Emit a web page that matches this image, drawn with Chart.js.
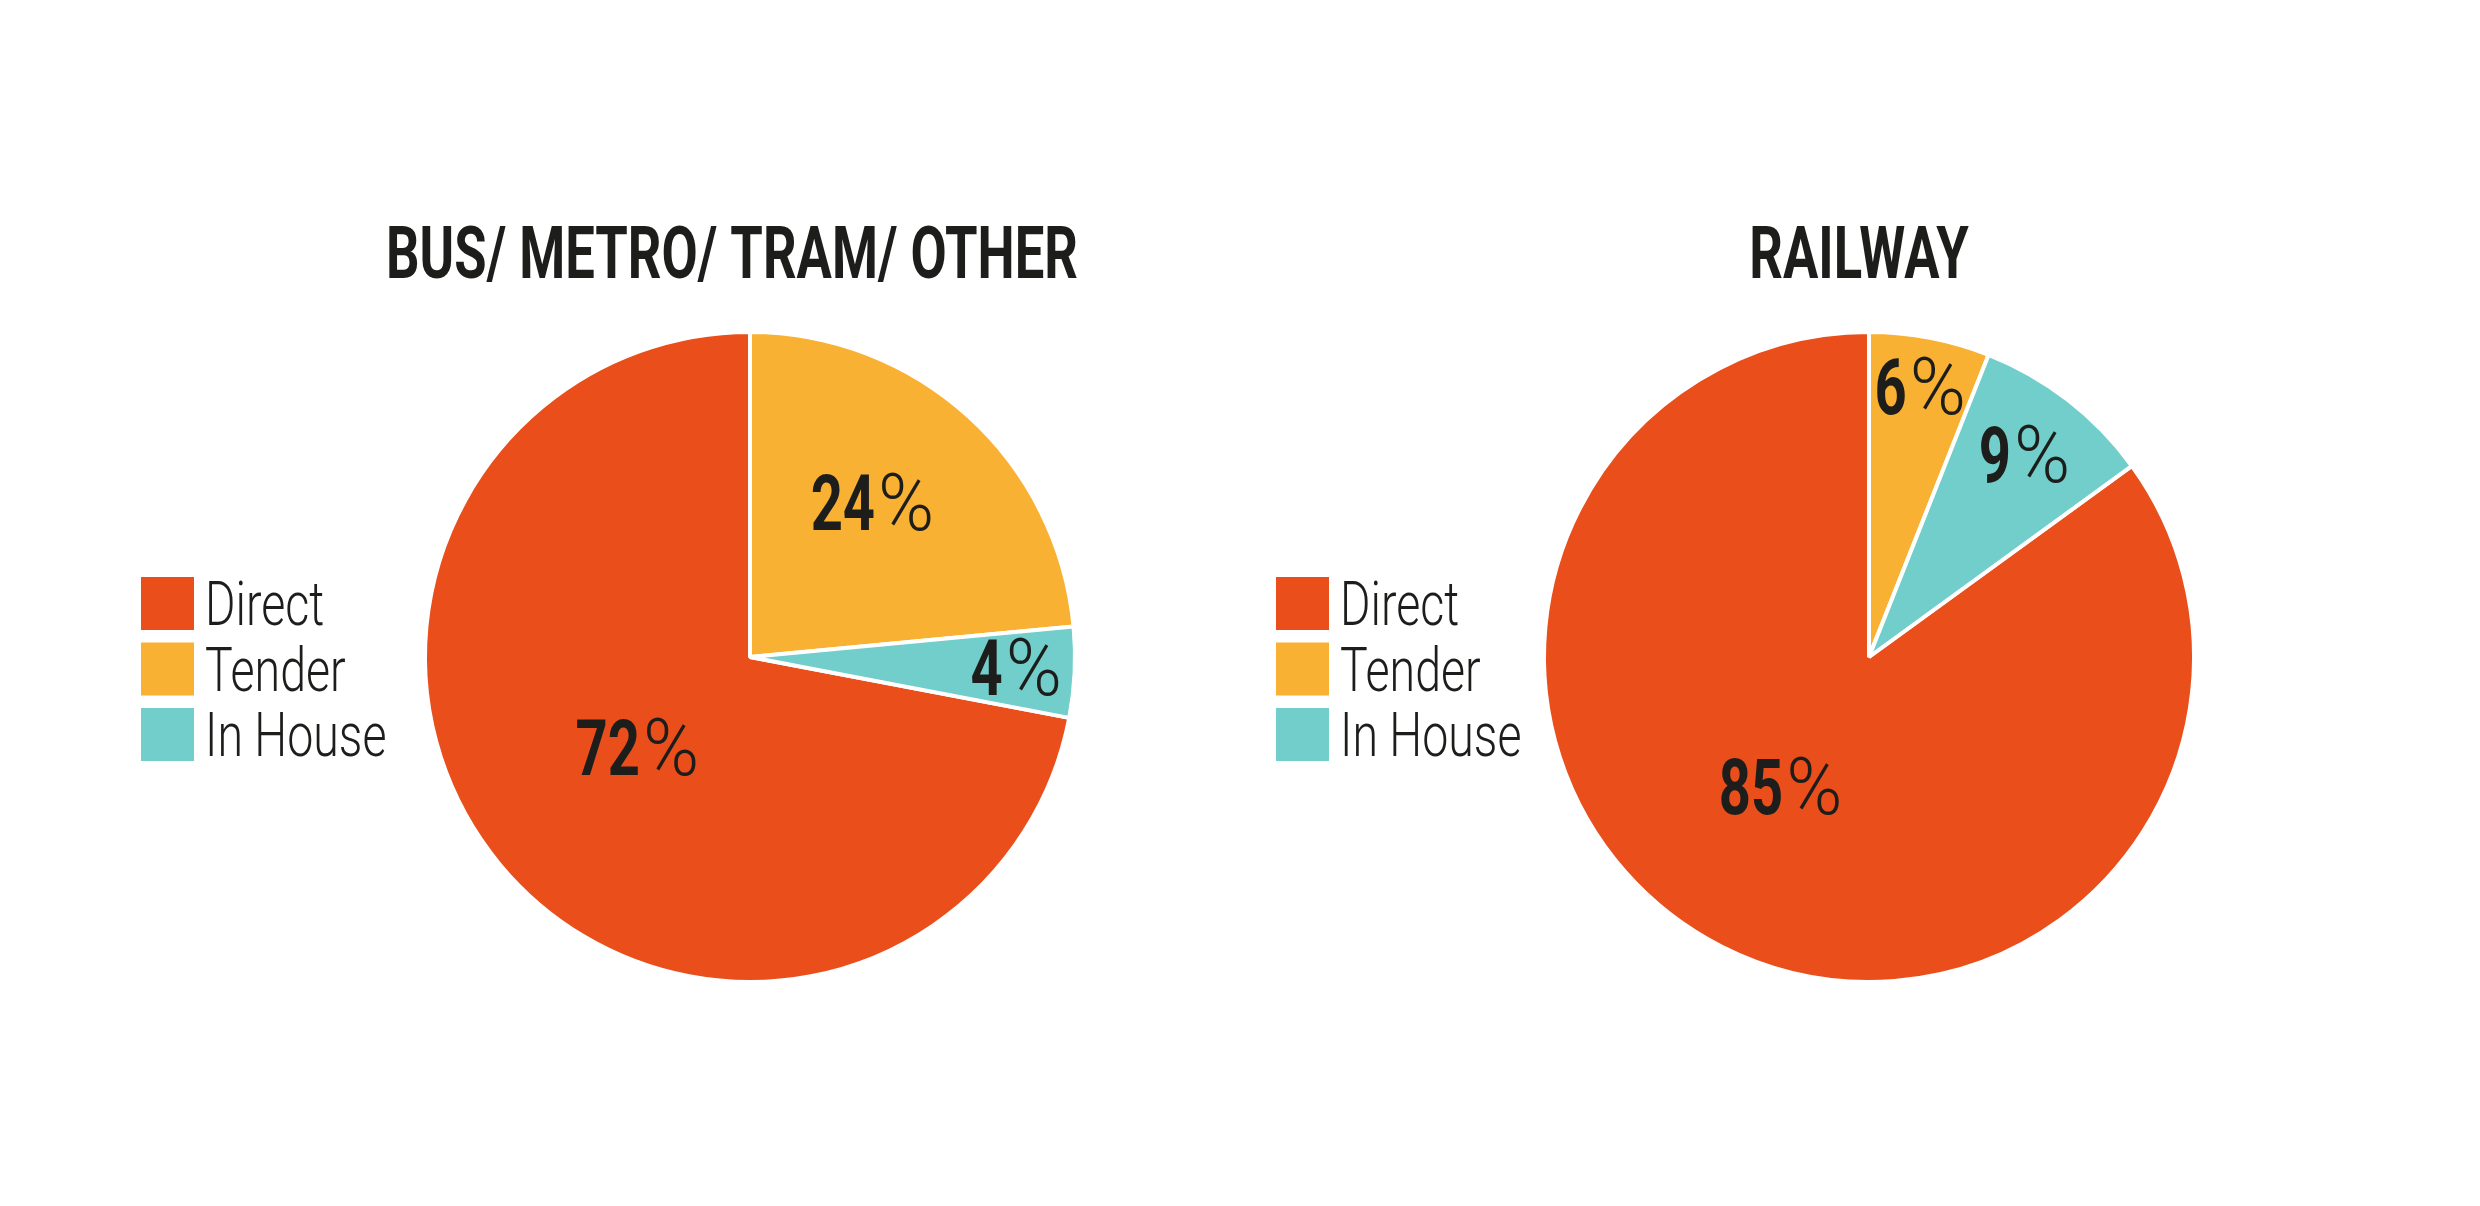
<!DOCTYPE html>
<html>
<head>
<meta charset="utf-8">
<script src="https://cdn.jsdelivr.net/npm/chart.js@4.4.1/dist/chart.umd.min.js"></script>
<style>
html, body { margin: 0; padding: 0; background: #fff; }
#wrap { position: relative; width: 2480px; height: 1206px; }
canvas { position: absolute; top: 0; }
</style>
</head>
<body>
<div id="wrap">
  <canvas id="busChart" width="1240" height="1206" style="left:0"></canvas>
  <canvas id="railChart" width="1240" height="1206" style="left:1240px"></canvas>
</div>
<script>
// data
const categories = ['Direct', 'Tender', 'In House'];
const busValues = [72, 23.5, 4.5];
const busLabels = ['72%', '24%', '4%'];
const railValues = [85, 6, 9];
const railLabels = ['85%', '6%', '9%'];
const busTitle = 'BUS/ METRO/ TRAM/ OTHER';
const railTitle = 'RAILWAY';

const colors = ['#E94E1B', '#F8B133', '#71CECA'];
const ink = '#1D1D1B';
const family = 'Roboto, "Noto Sans", sans-serif';

// the original uses a condensed face, so squeeze the text horizontally
function squeezedText(ctx, text, x, y, font, squeeze, align) {
  ctx.save();
  ctx.font = font;
  const w = ctx.measureText(text).width * squeeze;
  const left = align === 'center' ? x - w / 2 : x;
  ctx.translate(left, y);
  ctx.scale(squeeze, 1);
  ctx.textAlign = 'left';
  ctx.textBaseline = 'alphabetic';
  ctx.fillText(text, 0, 0);
  ctx.restore();
  return w;
}

function textWidth(ctx, text, font, squeeze) {
  ctx.save();
  ctx.font = font;
  const w = ctx.measureText(text).width * squeeze;
  ctx.restore();
  return w;
}

const pieDecor = {
  id: 'pieDecor',
  afterDraw(chart, args, opts) {
    const ctx = chart.ctx;
    const meta = chart.getDatasetMeta(0);
    const first = meta.data[0];
    const cx = first.x, cy = first.y, R = first.outerRadius;
    ctx.fillStyle = ink;

    // title
    squeezedText(ctx, opts.title, opts.titleX, 278, `700 73px ${family}`, 0.72, 'center');

    // legend
    chart.data.labels.forEach((lab, i) => {
      const top = 577 + i * 65.5;
      ctx.fillStyle = chart.data.datasets[0].backgroundColor[i];
      ctx.fillRect(opts.legendX, top, 53, 53);
      ctx.fillStyle = ink;
      squeezedText(ctx, lab, opts.legendX + 64, top + 48, `300 62px ${family}`, 0.75, 'left');
    });

    // value labels: bold digits, light percent sign
    meta.data.forEach((arc, i) => {
      const mid = (arc.startAngle + arc.endAngle) / 2 + opts.labelAngle[i] * Math.PI / 180;
      const r = R * opts.labelRadius[i];
      const x = cx + Math.cos(mid) * r;
      const y = cy + Math.sin(mid) * r;
      const txt = opts.valueLabels[i];
      const num = txt.replace('%', '');
      const numFont = `700 78px ${family}`;
      const pctFont = `300 80px ${family}`;
      const w1 = textWidth(ctx, num, numFont, 0.72);
      const w2 = textWidth(ctx, '%', pctFont, 0.95);
      const gap = 3;
      const left = x - (w1 + gap + w2) / 2;
      const base = y + 25;
      ctx.fillStyle = ink;
      squeezedText(ctx, num, left, base, numFont, 0.72, 'left');
      squeezedText(ctx, '%', left + w1 + gap, base, pctFont, 0.95, 'left');
    });
  }
};

function makePie(canvasId, values, valueLabels, title, padding, decor) {
  const direct = values[0];
  const total = values.reduce((a, b) => a + b, 0);
  return new Chart(document.getElementById(canvasId), {
    type: 'pie',
    data: {
      labels: categories,
      datasets: [{
        data: values,
        backgroundColor: colors,
        borderColor: '#ffffff',
        borderWidth: 4,
        hoverOffset: 0
      }]
    },
    options: {
      responsive: false,
      animation: false,
      radius: 325,
      // Direct ends at 12 o'clock, Tender starts there
      rotation: 360 * (1 - direct / total),
      layout: { padding: padding },
      plugins: {
        legend: { display: false },
        tooltip: { enabled: false },
        pieDecor: Object.assign({ title: title, valueLabels: valueLabels }, decor)
      }
    },
    plugins: [pieDecor]
  });
}

makePie('busChart', busValues, busLabels, busTitle,
  { left: 420, right: 160, top: 298, bottom: 190 },
  { titleX: 732, legendX: 141, labelRadius: [0.45, 0.6, 0.82], labelAngle: [0, -3.4, 0] });

makePie('railChart', railValues, railLabels, railTitle,
  { left: 300, right: 282, top: 298, bottom: 190 },
  { titleX: 619, legendX: 36, labelRadius: [0.49, 0.84, 0.78], labelAngle: [6.7, 0, 0] });
</script>
</body>
</html>
